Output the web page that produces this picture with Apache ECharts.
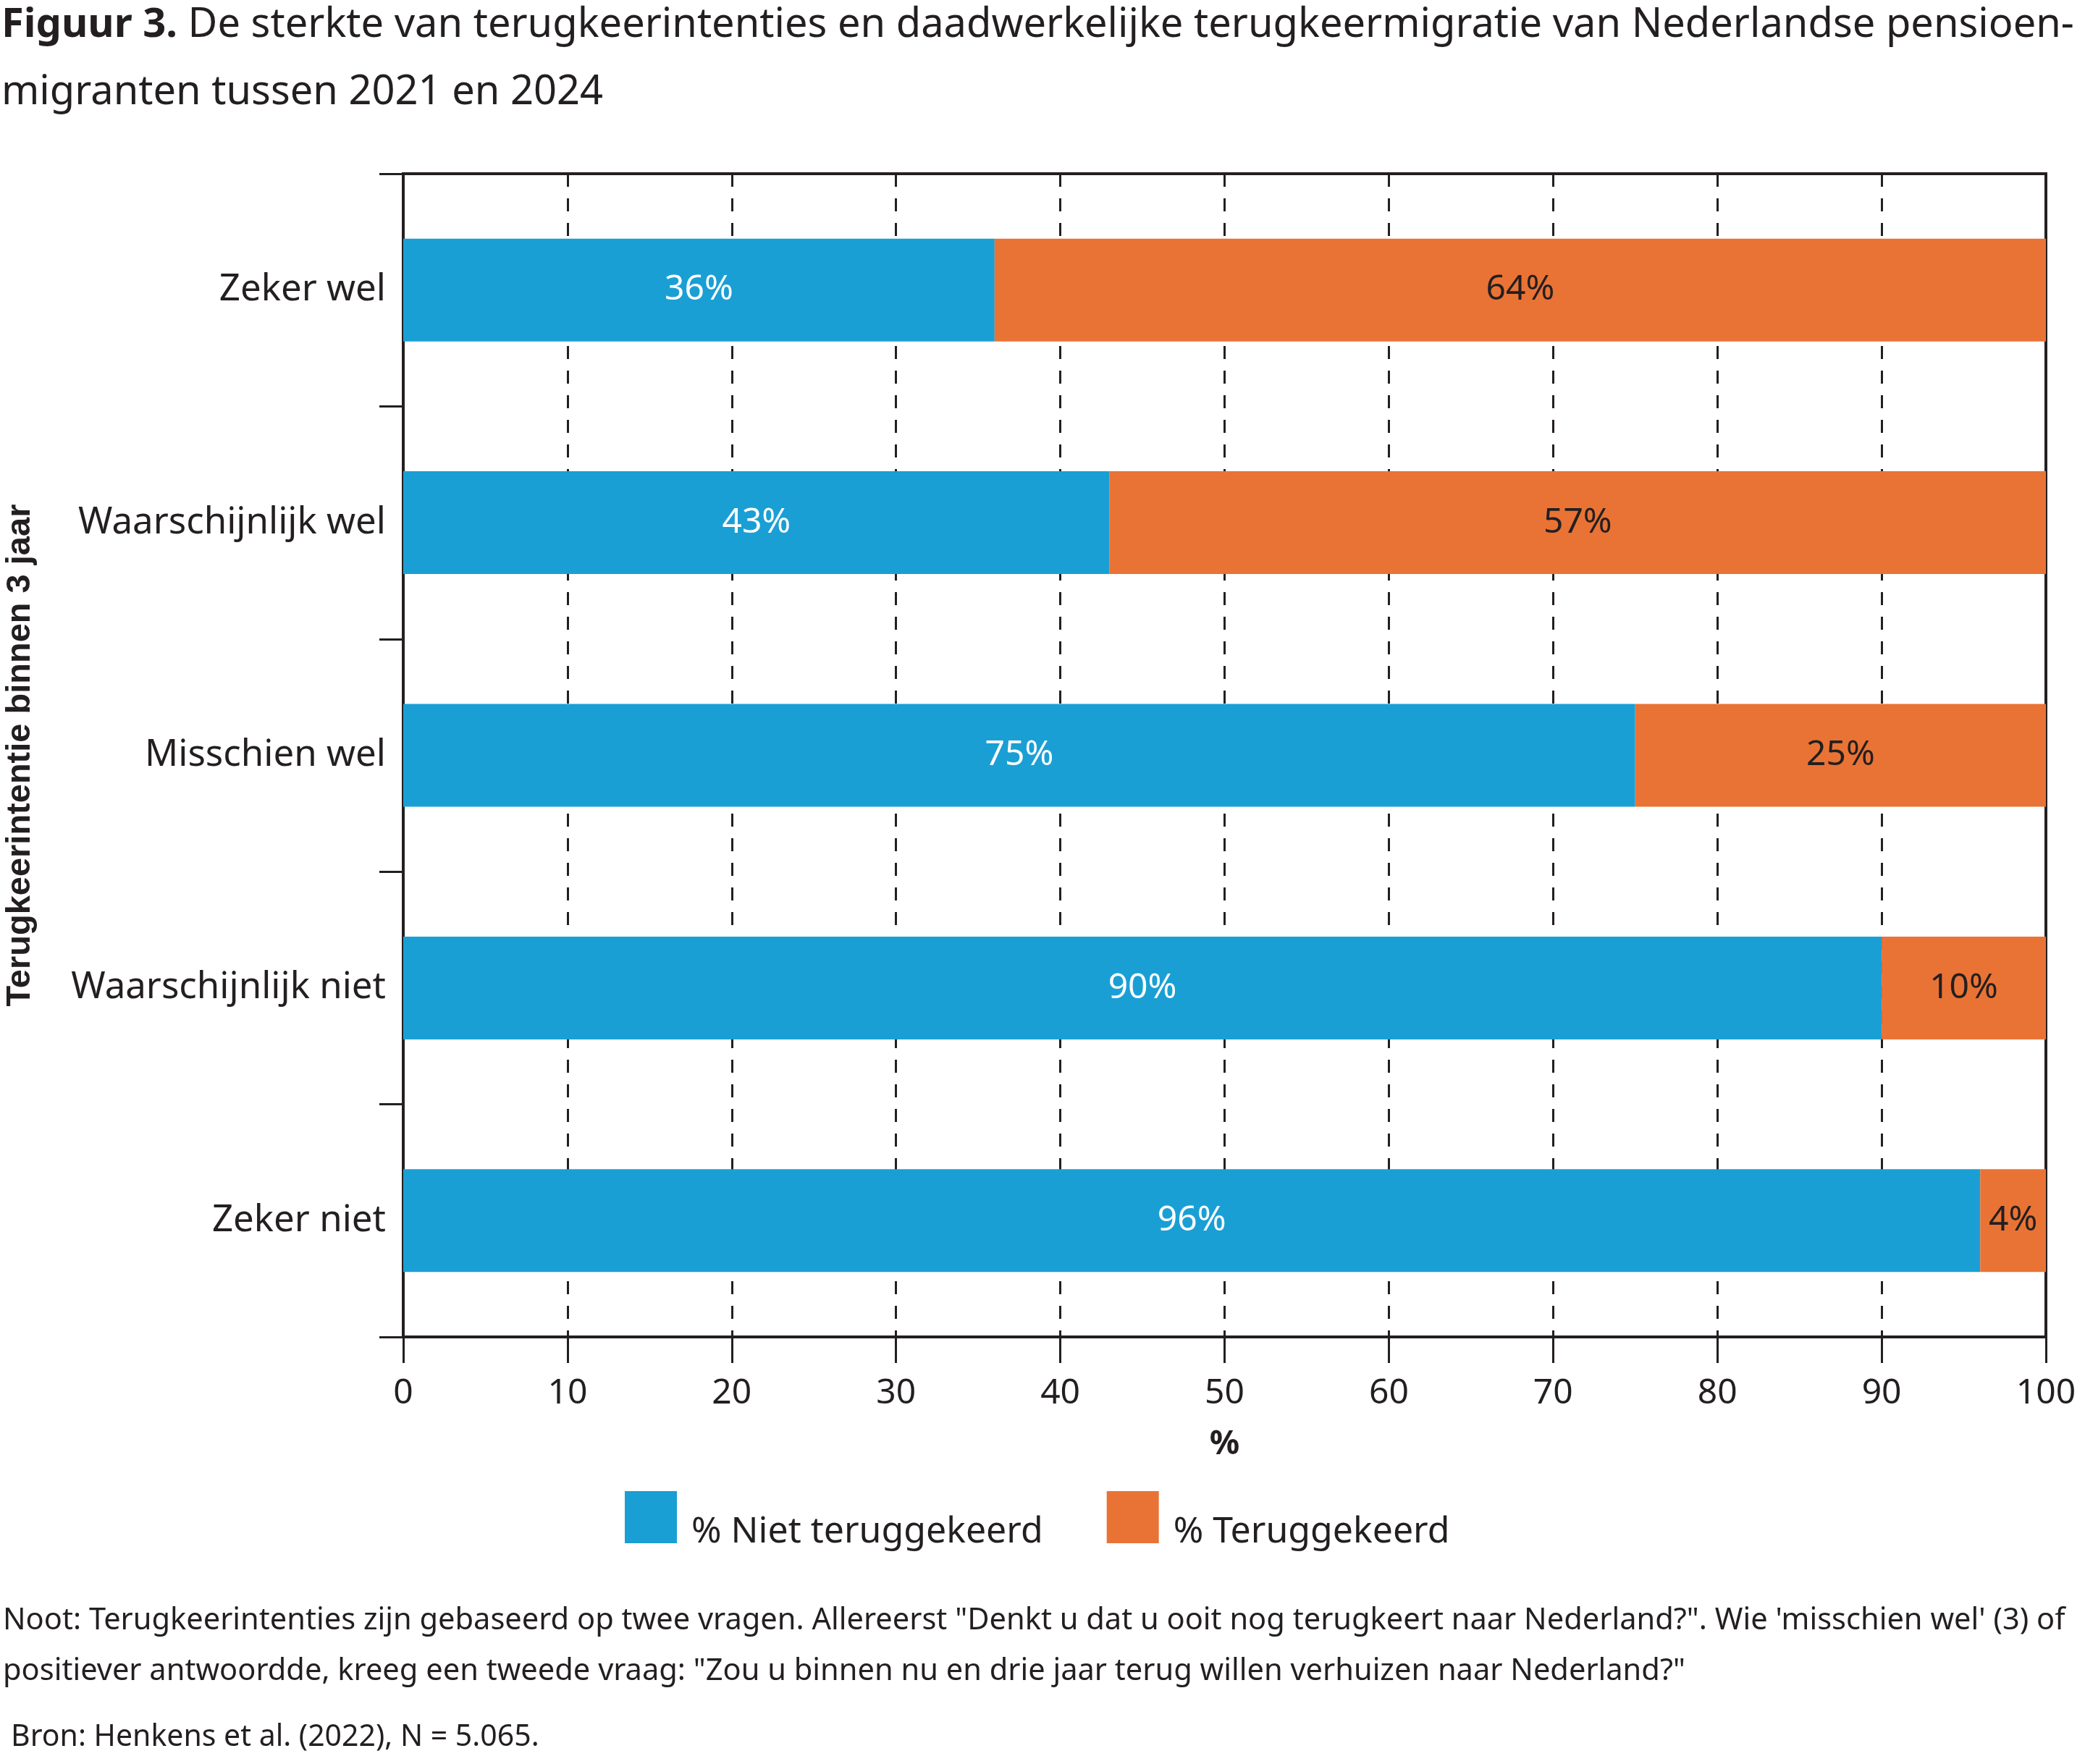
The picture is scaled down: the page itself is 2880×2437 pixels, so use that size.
<!DOCTYPE html>
<html>
<head>
<meta charset="utf-8">
<script src="https://cdn.jsdelivr.net/npm/echarts@6/dist/echarts.min.js"></script>
<style>
  html, body { margin: 0; padding: 0; background: #fff; }
  #main { width: 2880px; height: 2437px; }
</style>
</head>
<body>
<div id="main"></div>
<script>
var categories = ['Zeker wel', 'Waarschijnlijk wel', 'Misschien wel', 'Waarschijnlijk niet', 'Zeker niet'];
var nietTeruggekeerd = [36, 43, 75, 90, 96];
var teruggekeerd = [64, 57, 25, 10, 4];

var ink = '#231f20';
var font = 'Noto Sans';

var myChart = echarts.init(document.getElementById('main'));

// square in the upper part of the legend item, so the text sits near its bottom
var legendIcon = 'path://M0,0L72,0L72,72L0,72Z M0,114';

var option = {
    backgroundColor: '#fff',
    textStyle: { fontFamily: font, color: ink },
    title: {
        left: 2,
        top: -11,
        padding: 0,
        text: '{b|Figuur 3.} De sterkte van terugkeerintenties en daadwerkelijke terugkeermigratie van Nederlandse pensioen-\nmigranten tussen 2021 en 2024',
        textStyle: {
            fontFamily: font,
            fontWeight: 'normal',
            fontSize: 56,
            lineHeight: 93,
            color: ink,
            rich: {
                b: { fontFamily: font, fontWeight: 'bold', fontSize: 56, lineHeight: 93, color: ink }
            }
        }
    },
    legend: {
        left: 863,
        top: 2060,
        padding: 0,
        icon: legendIcon,
        itemWidth: 72,
        itemHeight: 114,
        itemGap: 88,
        data: ['% Niet teruggekeerd', '% Teruggekeerd'],
        textStyle: { fontFamily: font, fontSize: 50, color: ink, padding: [0, 0, 0, 15] }
    },
    grid: {
        left: 557,
        right: 2880 - 2826,
        top: 240,
        bottom: 2437 - 1847,
        show: true,
        borderWidth: 4,
        borderColor: ink,
        outerBoundsMode: 'none'
    },
    xAxis: {
        type: 'value',
        min: 0,
        max: 100,
        interval: 10,
        name: '%',
        nameLocation: 'middle',
        nameGap: 126,
        nameTextStyle: { fontFamily: font, fontWeight: 'bold', fontSize: 46, color: ink },
        axisLine: { show: true, lineStyle: { color: ink, width: 4 } },
        axisTick: { show: true, length: 36, lineStyle: { color: ink, width: 3 } },
        axisLabel: { margin: 54, fontFamily: font, fontSize: 48, color: ink },
        splitLine: { show: true, lineStyle: { color: ink, width: 3, type: [18, 16] } }
    },
    yAxis: {
        type: 'category',
        inverse: true,
        data: categories,
        name: 'Terugkeerintentie binnen 3 jaar',
        nameLocation: 'middle',
        nameGap: 505,
        nameTextStyle: { fontFamily: 'Liberation Sans', fontWeight: 'bold', fontSize: 47, color: ink },
        axisLine: { show: true, lineStyle: { color: ink, width: 4 } },
        axisTick: { show: true, length: 33, alignWithLabel: false, lineStyle: { color: ink, width: 3 } },
        axisLabel: { margin: 24, fontFamily: font, fontSize: 51, color: ink }
    },
    series: [
        {
            name: '% Niet teruggekeerd',
            type: 'bar',
            stack: 'totaal',
            barWidth: 142,
            data: nietTeruggekeerd,
            itemStyle: { color: '#1a9fd5' },
            label: { show: true, position: 'inside', formatter: '{c}%', fontFamily: font, fontSize: 48, color: '#fff' }
        },
        {
            name: '% Teruggekeerd',
            type: 'bar',
            stack: 'totaal',
            barWidth: 142,
            data: teruggekeerd,
            itemStyle: { color: '#e97335' },
            label: { show: true, position: 'inside', formatter: '{c}%', fontFamily: font, fontSize: 48, color: ink }
        }
    ],
    graphic: [
        {
            type: 'text',
            left: 4,
            top: 2204,
            style: {
                text: 'Noot: Terugkeerintenties zijn gebaseerd op twee vragen. Allereerst "Denkt u dat u ooit nog terugkeert naar Nederland?". Wie \'misschien wel\' (3) of\npositiever antwoordde, kreeg een tweede vraag: "Zou u binnen nu en drie jaar terug willen verhuizen naar Nederland?"',
                font: '41.6px "Noto Sans"',
                lineHeight: 70,
                fill: ink
            }
        },
        {
            type: 'text',
            left: 15,
            top: 2380,
            style: {
                text: 'Bron: Henkens et al. (2022), N = 5.065.',
                font: '41px "Noto Sans"',
                fill: ink
            }
        }
    ]
};

myChart.setOption(option);
</script>
</body>
</html>
